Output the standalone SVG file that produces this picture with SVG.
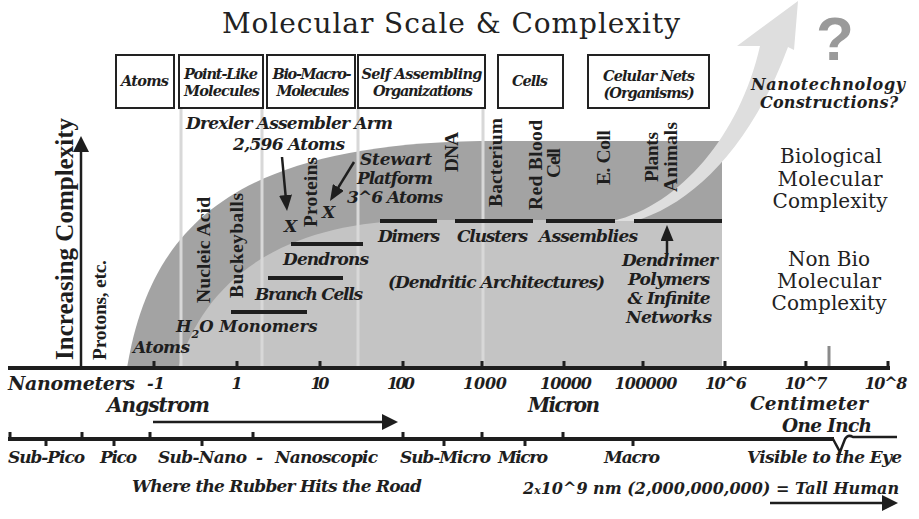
<svg xmlns="http://www.w3.org/2000/svg" width="919" height="519" viewBox="0 0 919 519">
<defs>
<style>
.bi{font-family:"DejaVu Serif","Liberation Serif",serif;font-weight:bold;font-style:italic;fill:#1e1e1e}
.rt{font-family:"Liberation Serif","Times New Roman",serif;font-weight:bold;fill:#1e1e1e;font-size:19.5px}
.sf{font-family:"DejaVu Serif","Liberation Serif",serif;fill:#222}
.box{fill:#fff;stroke:#222;stroke-width:2}
.vl{stroke:#d8d8d8;stroke-width:3}
.bar{stroke:#1e1e1e;stroke-width:4}
.tk{stroke:#1e1e1e;stroke-width:3}
.ar{stroke:#1e1e1e;stroke-width:2.5;fill:none}
.bl{font-size:14.5px}
.cl{font-size:17px}
.ax{font-size:16px}
.big{font-size:20px}
</style>
<marker id="ah" viewBox="0 0 16 16" markerWidth="16" markerHeight="16" refX="8" refY="8" orient="auto" markerUnits="userSpaceOnUse"><path d="M0,0 L16,8 L0,16 Z" fill="#1e1e1e"/></marker>
<marker id="ahm" viewBox="0 0 16 13" markerWidth="16" markerHeight="13" refX="8" refY="6.5" orient="auto" markerUnits="userSpaceOnUse"><path d="M0,0 L16,6.5 L0,13 Z" fill="#1e1e1e"/></marker>
</defs>
<rect x="0" y="0" width="919" height="519" fill="#fff"/>

<text class="sf" x="222" y="33" font-size="28" textLength="458">Molecular Scale &amp; Complexity</text>

<g id="regions">
<path id="bio-region" d="M127,368 C150,230 230,145 480,141 L722,141 L722,368 Z" fill="#a3a3a3"/>
<path id="nonbio-region" d="M178,368 C205,280 280,222 420,220 L722,220 L722,368 Z" fill="#c4c4c4"/>
<line class="vl" x1="181" y1="109" x2="181" y2="366"/>
<line class="vl" x1="262" y1="109" x2="262" y2="366"/>
<line class="vl" x1="358" y1="109" x2="358" y2="366"/>
<line class="vl" x1="483" y1="109" x2="483" y2="366"/>
<path id="nano-arrow" d="M613,221 C680,205 740,135 760,46 L737,46 L798,1 L794,50 L788,47 C750,150 690,205 635,221 Z" fill="#dedede"/>
</g>

<g id="boxes">
<g id="box-atoms"><rect class="box" x="116" y="55" width="58" height="53"/><text class="bi bl" x="145" y="86" text-anchor="middle" textLength="48">Atoms</text></g>
<g id="box-pointlike"><rect class="box" x="179" y="55" width="84" height="53"/><text class="bi bl" x="221" y="79" text-anchor="middle" textLength="74">Point-Like</text><text class="bi bl" x="222" y="96" text-anchor="middle" textLength="76">Molecules</text></g>
<g id="box-biomacro"><rect class="box" x="267" y="55" width="88" height="53"/><text class="bi bl" x="312" y="79" text-anchor="middle" textLength="79">Bio-Macro-</text><text class="bi bl" x="313" y="96" text-anchor="middle" textLength="73">Molecules</text></g>
<g id="box-selfasm"><rect class="box" x="358" y="55" width="127" height="53"/><text class="bi bl" x="422" y="79" text-anchor="middle" textLength="121">Self Assembling</text><text class="bi bl" x="423" y="96" text-anchor="middle" textLength="100">Organizations</text></g>
<g id="box-cells"><rect class="box" x="498" y="55" width="65" height="53"/><text class="bi bl" x="530" y="86" text-anchor="middle" textLength="36">Cells</text></g>
<g id="box-celnets"><rect class="box" x="588" y="55" width="121" height="53"/><text class="bi bl" x="649" y="81" text-anchor="middle" textLength="92">Celular Nets</text><text class="bi bl" x="649" y="98" text-anchor="middle" textLength="91">(Organisms)</text></g>
</g>

<g id="bars">
<line class="bar" x1="380" y1="221" x2="437" y2="221"/>
<line class="bar" x1="455" y1="221" x2="533" y2="221"/>
<line class="bar" x1="546" y1="221" x2="615" y2="221"/>
<line class="bar" x1="634" y1="221" x2="722" y2="221"/>
<line class="bar" x1="291" y1="244" x2="363" y2="244"/>
<line class="bar" x1="268" y1="278" x2="343" y2="278"/>
<line class="bar" x1="231" y1="312" x2="307" y2="312"/>
</g>

<g id="axis-nm">
<line x1="8" y1="368" x2="890" y2="368" stroke="#1e1e1e" stroke-width="4"/>
<path class="tk" d="M154,361V368M237,361V368M320,361V368M403,361V368M482,361V368M564,361V368M643,361V368M725,361V368M806,361V368M888,361V368"/>
<line x1="829" y1="346" x2="829" y2="366" stroke="#8a8a8a" stroke-width="3"/>
</g>

<g id="axis-scale">
<line x1="8" y1="439" x2="834" y2="439" stroke="#1e1e1e" stroke-width="4"/>
<path d="M833,439 L840,452 L845,439 Q848,434 853,437 L897,437" fill="none" stroke="#1e1e1e" stroke-width="2.5"/>
<path class="tk" d="M10,432V439M46,439V446M82,432V439M114,439V446M150,432V439M202,439V446M253,432V439M403,432V439M444,439V446M482,432V439M525,439V446M563,432V439M633,439V446"/>
</g>

<g id="connectors">
<line class="ar" x1="81" y1="368" x2="81" y2="144" marker-end="url(#ah)"/>
<line class="ar" x1="153" y1="422" x2="390" y2="422" marker-end="url(#ah)"/>
<line class="ar" x1="770" y1="503" x2="890" y2="503" marker-end="url(#ah)"/>
<line class="ar" x1="282" y1="157" x2="286.3" y2="203" marker-end="url(#ahm)"/>
<line class="ar" x1="354" y1="162" x2="334.2" y2="194.2" marker-end="url(#ahm)"/>
<line class="ar" x1="667" y1="253" x2="667" y2="233" marker-end="url(#ahm)"/>
</g>

<g id="rotated-labels">
<text class="rt" transform="translate(73,360) rotate(-90)" style="font-size:25px" textLength="242">Increasing Complexity</text>
<text class="rt" transform="translate(106,360) rotate(-90)" textLength="100">Protons, etc.</text>
<text class="rt" transform="translate(210,303) rotate(-90)" textLength="106">Nucleic Acid</text>
<text class="rt" transform="translate(243,298) rotate(-90)" textLength="105">Buckeyballs</text>
<text class="rt" transform="translate(317,227) rotate(-90)" textLength="70">Proteins</text>
<text class="rt" transform="translate(458,172) rotate(-90)" textLength="40">DNA</text>
<text class="rt" transform="translate(502,207) rotate(-90)" textLength="89">Bacterium</text>
<text class="rt" transform="translate(542,210) rotate(-90)" textLength="90">Red Blood</text>
<text class="rt" transform="translate(560,178) rotate(-90)" textLength="30">Cell</text>
<text class="rt" transform="translate(610,185) rotate(-90)" textLength="55">E. Coll</text>
<text class="rt" transform="translate(658,182) rotate(-90)" textLength="50">Plants</text>
<text class="rt" transform="translate(677,192) rotate(-90)" textLength="70">Animals</text>
</g>

<g id="chart-labels">
<text class="bi cl" x="186" y="129" textLength="207">Drexler Assembler Arm</text>
<text class="bi cl" x="233" y="150" textLength="112">2,596 Atoms</text>
<text class="bi cl" x="284" y="232">X</text>
<text class="bi cl" x="322" y="218">X</text>
<text class="bi cl" x="360" y="165" textLength="72">Stewart</text>
<text class="bi cl" x="357" y="184" textLength="76">Platform</text>
<text class="bi cl" x="347" y="203" textLength="96">3^6 Atoms</text>
<text class="bi cl" x="378" y="242" textLength="62">Dimers</text>
<text class="bi cl" x="457" y="242" textLength="71">Clusters</text>
<text class="bi cl" x="539" y="242" textLength="99">Assemblies</text>
<text class="bi cl" x="283" y="265" textLength="86">Dendrons</text>
<text class="bi cl" x="255" y="300" textLength="108">Branch Cells</text>
<text class="bi" x="176" y="332" font-size="16.5">H<tspan dy="6" font-size="11">2</tspan><tspan dy="-6">O Monomers</tspan></text>
<text class="bi cl" x="133" y="353" textLength="57">Atoms</text>
<text class="bi cl" x="388" y="288" textLength="217">(Dendritic Architectures)</text>
<text class="bi cl" x="670" y="266" text-anchor="middle" textLength="96">Dendrimer</text>
<text class="bi cl" x="669" y="285" text-anchor="middle" textLength="82">Polymers</text>
<text class="bi cl" x="669" y="304" text-anchor="middle" textLength="83">&amp; Infinite</text>
<text class="bi cl" x="669" y="323" text-anchor="middle" textLength="86">Networks</text>
</g>

<g id="side-labels">
<text x="835" y="60" text-anchor="middle" font-family="Liberation Sans, Arial, sans-serif" font-weight="bold" font-size="62" fill="#9a9a9a">?</text>
<text class="bi" x="828" y="90" text-anchor="middle" font-size="16" textLength="154">Nanotechnology</text>
<text class="bi" x="829" y="108" text-anchor="middle" font-size="16" textLength="138">Constructions?</text>
<text class="sf" x="831" y="163" text-anchor="middle" font-size="20" textLength="102">Biological</text>
<text class="sf" x="830" y="186" text-anchor="middle" font-size="20" textLength="105">Molecular</text>
<text class="sf" x="830" y="208" text-anchor="middle" font-size="20" textLength="115">Complexity</text>
<text class="sf" x="829" y="266" text-anchor="middle" font-size="20" textLength="82">Non Bio</text>
<text class="sf" x="829" y="288" text-anchor="middle" font-size="20" textLength="104">Molecular</text>
<text class="sf" x="829" y="310" text-anchor="middle" font-size="20" textLength="115">Complexity</text>
</g>

<g id="axis-labels">
<text class="bi" x="8" y="390" font-size="19" textLength="127">Nanometers</text>
<text class="bi ax" x="156" y="389" text-anchor="middle" textLength="18">-1</text>
<text class="bi ax" x="237" y="389" text-anchor="middle">1</text>
<text class="bi ax" x="320" y="389" text-anchor="middle" textLength="19">10</text>
<text class="bi ax" x="401" y="389" text-anchor="middle" textLength="28">100</text>
<text class="bi ax" x="485" y="389" text-anchor="middle" textLength="44">1000</text>
<text class="bi ax" x="566" y="389" text-anchor="middle" textLength="52">10000</text>
<text class="bi ax" x="646" y="389" text-anchor="middle" textLength="63">100000</text>
<text class="bi ax" x="726" y="389" text-anchor="middle" textLength="42">10^6</text>
<text class="bi ax" x="806" y="389" text-anchor="middle" textLength="43">10^7</text>
<text class="bi ax" x="886" y="389" text-anchor="middle" textLength="43">10^8</text>
<text class="bi big" x="107" y="412" textLength="103">Angstrom</text>
<text class="bi big" x="528" y="412" textLength="72">Micron</text>
<text class="bi" x="750" y="410" font-size="18.5" textLength="118">Centimeter</text>
<text class="bi" x="782" y="432" font-size="18.5" textLength="90">One Inch</text>
<text class="bi cl" x="8" y="463" textLength="77">Sub-Pico</text>
<text class="bi cl" x="100" y="463" textLength="37">Pico</text>
<text class="bi cl" y="463"><tspan x="158" textLength="89">Sub-Nano</tspan><tspan x="256">-</tspan><tspan x="275" textLength="103">Nanoscopic</tspan></text>
<text class="bi cl" x="400" y="463" textLength="91">Sub-Micro</text>
<text class="bi cl" x="498" y="463" textLength="50">Micro</text>
<text class="bi cl" x="604" y="463" textLength="56">Macro</text>
<text class="bi cl" x="747" y="463" textLength="155">Visible to the Eye</text>
<text class="bi cl" x="132" y="492" textLength="290">Where the Rubber Hits the Road</text>
<text class="bi" x="523" y="494" font-size="16">2<tspan font-size="11">x</tspan>10^9 nm (2,000,000,000) = Tall Human</text>
</g>
</svg>
